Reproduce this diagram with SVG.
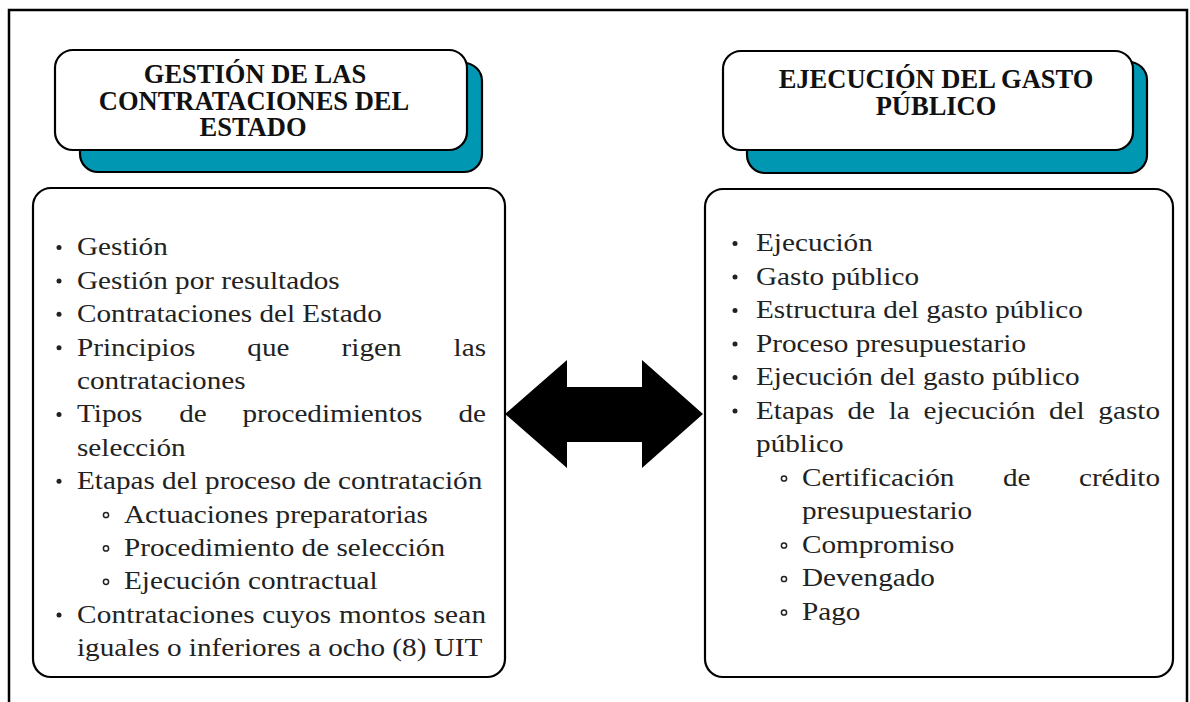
<svg xmlns="http://www.w3.org/2000/svg" width="1190" height="702" viewBox="0 0 1190 702">
<style>
.frame{fill:none;stroke:#000;stroke-width:2.5}
.box{fill:#fff;stroke:#000;stroke-width:2.2}
.shadow{fill:#0097b2;stroke:#000;stroke-width:2.2}
.head{font-family:"Liberation Serif","Times New Roman",serif;font-weight:bold;font-size:26.5px;fill:#111;text-anchor:middle}
.txt{font-family:"Liberation Serif","Times New Roman",serif;font-size:25.5px;fill:#222}
.end{text-anchor:end}
.dot{fill:#222}
.ring{fill:none;stroke:#222;stroke-width:1.5}
</style>
<rect width="1190" height="702" fill="#fff"/>
<path class="frame" d="M9,702 V10 H1187 V702"/>

<g id="node-left-header">
<rect class="shadow" x="80" y="63" width="402" height="109" rx="18"/>
<rect class="box" x="55" y="50" width="412" height="100" rx="18"/>
<text class="head" x="255" y="83">GESTIÓN DE LAS</text>
<text class="head" x="254" y="109.5">CONTRATACIONES DEL</text>
<text class="head" x="253" y="136">ESTADO</text>
</g>

<g id="node-right-header">
<rect class="shadow" x="747" y="62" width="400" height="111" rx="18"/>
<rect class="box" x="723" y="51" width="410" height="99" rx="18"/>
<text class="head" x="936" y="88">EJECUCIÓN DEL GASTO</text>
<text class="head" x="936" y="115">PÚBLICO</text>
</g>

<g id="node-left-list">
<rect class="box" x="33" y="188" width="472" height="489" rx="18"/>
<g>
<circle class="dot" cx="59" cy="247.5" r="2.5"/>
<circle class="dot" cx="59" cy="280.9" r="2.5"/>
<circle class="dot" cx="59" cy="314.3" r="2.5"/>
<circle class="dot" cx="59" cy="347.7" r="2.5"/>
<circle class="dot" cx="59" cy="414.5" r="2.5"/>
<circle class="dot" cx="59" cy="481.3" r="2.5"/>
<circle class="ring" cx="106" cy="515" r="2.6"/>
<circle class="ring" cx="106" cy="548.4" r="2.6"/>
<circle class="ring" cx="106" cy="581.8" r="2.6"/>
<circle class="dot" cx="59" cy="614.9" r="2.5"/>
</g>
<g class="txt" font-family="'Liberation Serif', 'Times New Roman', serif" transform="scale(1.145 1)">
<text x="67.25" y="255.5">Gestión</text>
<text x="67.25" y="288.9">Gestión por resultados</text>
<text x="67.25" y="322.3">Contrataciones del Estado</text>
<text x="67.25" y="355.7">Principios</text>
<text x="216" y="355.7">que</text>
<text x="298.3" y="355.7">rigen</text>
<text class="end" x="424.5" y="355.7">las</text>
<text x="67.25" y="389.1">contrataciones</text>
<text x="67.25" y="422.5">Tipos</text>
<text x="156.5" y="422.5">de</text>
<text x="211.8" y="422.5">procedimientos</text>
<text class="end" x="424.5" y="422.5">de</text>
<text x="67.25" y="455.9">selección</text>
<text x="67.25" y="489.3">Etapas del proceso de contratación</text>
<text x="108.3" y="522.7">Actuaciones preparatorias</text>
<text x="108.3" y="556.1">Procedimiento de selección</text>
<text x="108.3" y="589.5">Ejecución contractual</text>
<text x="67.25" y="622.9" textLength="357.2" lengthAdjust="spacing">Contrataciones cuyos montos sean</text>
<text x="67.25" y="656.3">iguales o inferiores a ocho (8) UIT</text>
</g>
</g>

<g id="node-right-list">
<rect class="box" x="705" y="189" width="468" height="488" rx="18"/>
<g>
<circle class="dot" cx="735" cy="243.5" r="2.5"/>
<circle class="dot" cx="735" cy="277" r="2.5"/>
<circle class="dot" cx="735" cy="310.5" r="2.5"/>
<circle class="dot" cx="735" cy="344" r="2.5"/>
<circle class="dot" cx="735" cy="377.5" r="2.5"/>
<circle class="dot" cx="735" cy="411" r="2.5"/>
<circle class="ring" cx="784" cy="478.5" r="2.6"/>
<circle class="ring" cx="784" cy="545.5" r="2.6"/>
<circle class="ring" cx="784" cy="579" r="2.6"/>
<circle class="ring" cx="784" cy="612.5" r="2.6"/>
</g>
<g class="txt" font-family="'Liberation Serif', 'Times New Roman', serif" transform="scale(1.145 1)">
<text x="660.3" y="251.5">Ejecución</text>
<text x="660.3" y="285">Gasto público</text>
<text x="660.3" y="318.5">Estructura del gasto público</text>
<text x="660.3" y="352">Proceso presupuestario</text>
<text x="660.3" y="385.5">Ejecución del gasto público</text>
<text x="660.3" y="419">Etapas</text>
<text x="740.2" y="419">de</text>
<text x="776.2" y="419">la</text>
<text x="806.5" y="419">ejecución</text>
<text x="916.2" y="419">del</text>
<text class="end" x="1013.1" y="419">gasto</text>
<text x="660.3" y="452.5">público</text>
<text x="700.4" y="486">Certificación</text>
<text x="875.9" y="486">de</text>
<text class="end" x="1013.1" y="486">crédito</text>
<text x="700.4" y="519.5">presupuestario</text>
<text x="700.4" y="553">Compromiso</text>
<text x="700.4" y="586.5">Devengado</text>
<text x="700.4" y="620">Pago</text>
</g>
</g>

<g id="connectors">
<polygon points="505,414 567,360 567,387 642,387 642,360 703,414 642,468 642,442 567,442 567,468" fill="#000"/>
</g>
</svg>
